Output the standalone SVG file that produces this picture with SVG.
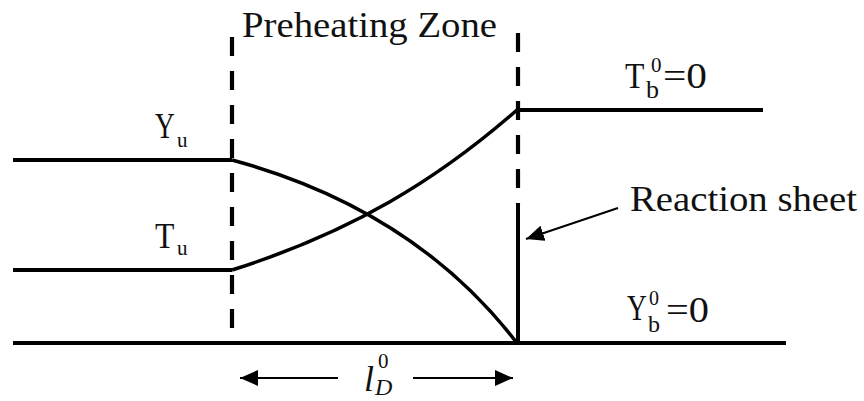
<svg xmlns="http://www.w3.org/2000/svg" width="864" height="401" viewBox="0 0 864 401">
<style>
.ln{fill:none;stroke:#000;stroke-width:4;stroke-linecap:butt}
.cv{fill:none;stroke:#000;stroke-width:3.5}
.dash{fill:none;stroke:#000;stroke-width:4.2;stroke-dasharray:19 15}
.ar{fill:none;stroke:#000;stroke-width:2}
text{font-family:"Liberation Serif","Times New Roman",serif;fill:#111}
.m{font-size:36px}
.s{font-size:26px}
.p{font-size:21px}
.i{font-style:italic}
</style>
<defs>
<marker id="ah" markerUnits="userSpaceOnUse" markerWidth="20" markerHeight="16" refX="18" refY="8" orient="auto">
<path d="M0,0 L18,8 L0,16 z" fill="#000"/>
</marker>
</defs>
<rect width="864" height="401" fill="#fff"/>
<g id="connectors">
<path class="ln" d="M13 160 H232"/>
<path class="ln" d="M13 270 H232"/>
<path class="ln" d="M13 343 H786"/>
<path class="ln" d="M517 110 H763"/>
<path class="ln" d="M518 204 V343"/>
<path class="dash" d="M232 37 V328"/>
<path class="dash" d="M518 33 V204"/>
<path class="cv" d="M232 160 C332 187 437 239 517 343"/>
<path class="cv" d="M232 270 C352 232 437 180 517 110"/>
<path class="ar" d="M618 208 L526 239" marker-end="url(#ah)"/>
<path class="ar" d="M338 378 L240 378" marker-end="url(#ah)"/>
<path class="ar" d="M413 378 L513 378" marker-end="url(#ah)"/>
</g>
<g id="preheating-zone">
<text class="m" x="242" y="37" textLength="255" lengthAdjust="spacingAndGlyphs">Preheating Zone</text>
</g>
<g id="reaction-sheet">
<text class="m" x="630" y="211" textLength="227" lengthAdjust="spacingAndGlyphs">Reaction sheet</text>
</g>
<g id="Yu">
<text class="m" transform="translate(155 138) scale(0.76 1)">Y</text>
<text class="p" x="177" y="147">u</text>
</g>
<g id="Tu">
<text class="m" transform="translate(155 248) scale(0.88 1)">T</text>
<text class="p" x="177" y="255">u</text>
</g>
<g id="Tb">
<text class="m" transform="translate(625 88) scale(0.88 1)">T</text>
<text class="s" x="646" y="98">b</text>
<text class="p" x="651" y="72">0</text>
<text class="m" x="663" y="88" textLength="44" lengthAdjust="spacingAndGlyphs">=0</text>
</g>
<g id="Yb">
<text class="m" transform="translate(627 320) scale(0.76 1)">Y</text>
<text x="648" y="332" font-size="24">b</text>
<text x="649" y="305" font-size="20">0</text>
<text class="m" x="666" y="322" textLength="43" lengthAdjust="spacingAndGlyphs">=0</text>
</g>
<g id="lD">
<text class="i" x="364" y="391" font-size="36">l</text>
<text class="i" x="375" y="395" font-size="24">D</text>
<text x="378" y="368" font-size="21">0</text>
</g>
</svg>
